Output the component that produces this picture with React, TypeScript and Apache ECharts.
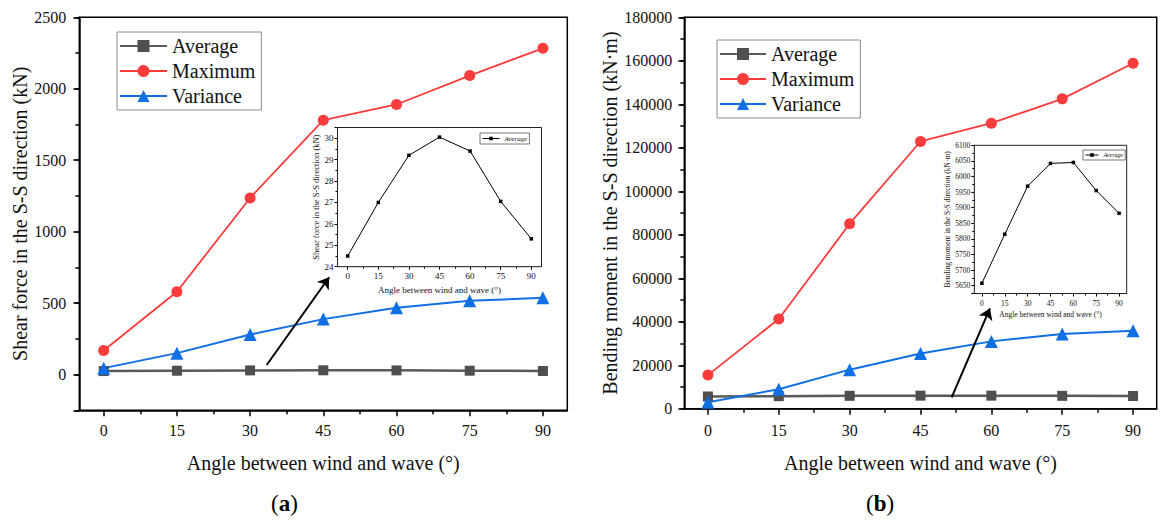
import React, { useEffect, useRef } from "react";
import * as echarts from "echarts";

// ---------- data ----------
const ANGLES = [0, 15, 30, 45, 60, 75, 90];
const SHEAR_AVG = [24.5, 27.0, 29.2, 30.05, 29.4, 27.05, 25.3];
const SHEAR_MAX = [168, 580, 1236, 1780, 1890, 2092, 2283];
const SHEAR_VAR = [45, 150, 280, 388, 468, 516, 537];
const MOMENT_AVG = [5658, 5815, 5969, 6042, 6045, 5955, 5882];
const MOMENT_MAX = [15500, 41300, 85100, 122900, 131300, 142500, 158900];
const MOMENT_VAR = [3000, 9000, 18000, 25400, 31000, 34400, 35900];
const SERIES_NAMES = ["Average", "Maximum", "Variance"];
// arrow annotations in data coordinates of the main panels
const ARROW_A = [[33.4, 67], [46.2, 681]];
const ARROW_B = [[51.6, 5290], [59.7, 46200]];

// tick positions along the angle axis (-5 .. 95 step 2.5)
const X_TICK_SLOTS: string[] = [];
for (let i = 0; i <= 40; i++) X_TICK_SLOTS.push(String(-5 + i * 2.5));
const isMajorX = (v: string) => {
  const n = Number(v);
  return n >= 0 && n <= 90 && n % 15 === 0;
};
const isMinorX = (v: string) => {
  const n = Number(v);
  return n > 0 && n < 90 && n % 7.5 === 0 && n % 15 !== 0;
};

const FONT = "'Liberation Serif', 'Times New Roman', serif";
const TXT = "#111";

const pairs = (ys: number[]) => ANGLES.map((a, i) => [a, ys[i]]);

type AxCfg = {
  g: number;
  lw: number;
  majorLen: number;
  minorLen: number;
  xLabelSize: number;
  xLabelMargin: number;
  xName: string;
  xNameSize: number;
  xNameGap: number;
  yMin: number;
  yMax: number;
  yInterval?: number;
  ySplit?: number;
  yMinorInterval: number;
  yFmt: (v: number) => string;
  yLabelSize: number;
  yLabelMargin: number;
  yName: string;
  yNameSize: number;
  yNameGap: number;
};

function makeAxes(c: AxCfg) {
  const line = { color: "#000", width: c.lw };
  const xs = [
    {
      type: "value",
      gridIndex: c.g,
      min: -5,
      max: 95,
      position: "bottom",
      axisLine: { show: true, onZero: false, lineStyle: line },
      axisTick: { show: false },
      axisLabel: { show: false },
      splitLine: { show: false },
      name: c.xName,
      nameLocation: "middle",
      nameGap: c.xNameGap,
      nameTextStyle: { fontFamily: FONT, fontSize: c.xNameSize, color: TXT },
    },
    {
      type: "category",
      gridIndex: c.g,
      data: X_TICK_SLOTS,
      boundaryGap: false,
      position: "bottom",
      axisLine: { show: false, onZero: false },
      axisTick: { show: true, length: c.majorLen, interval: (_i: number, v: string) => isMajorX(v), lineStyle: line },
      axisLabel: {
        show: true,
        interval: (_i: number, v: string) => isMajorX(v),
        fontFamily: FONT,
        fontSize: c.xLabelSize,
        color: TXT,
        margin: c.xLabelMargin,
      },
      splitLine: { show: false },
    },
    {
      type: "category",
      gridIndex: c.g,
      data: X_TICK_SLOTS,
      boundaryGap: false,
      position: "bottom",
      axisLine: { show: false, onZero: false },
      axisTick: { show: true, length: c.minorLen, interval: (_i: number, v: string) => isMinorX(v), lineStyle: line },
      axisLabel: { show: false },
      splitLine: { show: false },
    },
  ];
  const major: any = {
    type: "value",
    gridIndex: c.g,
    min: c.yMin,
    max: c.yMax,
    position: "left",
    axisLine: { show: true, onZero: false, lineStyle: line },
    axisTick: { show: true, length: c.majorLen, lineStyle: line },
    axisLabel: {
      formatter: c.yFmt,
      fontFamily: FONT,
      fontSize: c.yLabelSize,
      color: TXT,
      margin: c.yLabelMargin,
    },
    splitLine: { show: false },
    name: c.yName,
    nameLocation: "middle",
    nameRotate: 90,
    nameGap: c.yNameGap,
    nameTextStyle: { fontFamily: FONT, fontSize: c.yNameSize, color: TXT },
  };
  if (c.yInterval != null) major.interval = c.yInterval;
  if (c.ySplit != null) major.splitNumber = c.ySplit;
  const ys = [
    major,
    {
      type: "value",
      gridIndex: c.g,
      min: c.yMin,
      max: c.yMax,
      interval: c.yMinorInterval,
      position: "left",
      axisLine: { show: false, onZero: false },
      axisTick: { show: true, length: c.minorLen, lineStyle: line },
      axisLabel: { show: false },
      splitLine: { show: false },
    },
  ];
  return { xs, ys };
}

export default function App() {
  const ref = useRef<HTMLDivElement>(null);
  useEffect(() => {
    if (!ref.current) return;
    const chart = echarts.init(ref.current, undefined, { renderer: "svg" });

    const axA = makeAxes({
      g: 0, lw: 1.5, majorLen: 6, minorLen: 4,
      xLabelSize: 16, xLabelMargin: 12,
      xName: "Angle between wind and wave (°)", xNameSize: 20, xNameGap: 43,
      yMin: -250, yMax: 2500, ySplit: 5, yMinorInterval: 250,
      yFmt: (v) => (v % 500 === 0 ? String(v) : ""),
      yLabelSize: 16, yLabelMargin: 13,
      yName: "Shear force in the S-S direction (kN)", yNameSize: 20, yNameGap: 47,
    });
    const axB = makeAxes({
      g: 1, lw: 1.5, majorLen: 6, minorLen: 4,
      xLabelSize: 16, xLabelMargin: 14,
      xName: "Angle between wind and wave (°)", xNameSize: 20, xNameGap: 44,
      yMin: 0, yMax: 180000, yInterval: 20000, yMinorInterval: 10000,
      yFmt: (v) => String(v),
      yLabelSize: 16, yLabelMargin: 12,
      yName: "Bending moment in the S-S direction (kN·m)", yNameSize: 20, yNameGap: 64,
    });
    const axIA = makeAxes({
      g: 2, lw: 1, majorLen: 3, minorLen: 2,
      xLabelSize: 9, xLabelMargin: 5,
      xName: "Angle between wind and wave (°)", xNameSize: 9, xNameGap: 19,
      yMin: 24, yMax: 30.5, yInterval: 1, yMinorInterval: 0.5,
      yFmt: (v) => (Number.isInteger(v) ? String(v) : ""),
      yLabelSize: 9, yLabelMargin: 4,
      yName: "Shear force in the S-S direction (kN)", yNameSize: 8.5, yNameGap: 17,
    });
    const axIB = makeAxes({
      g: 3, lw: 1, majorLen: 3, minorLen: 2,
      xLabelSize: 7.5, xLabelMargin: 6,
      xName: "Angle between wind and wave (°)", xNameSize: 7.5, xNameGap: 17,
      yMin: 5625, yMax: 6100, ySplit: 9, yMinorInterval: 25,
      yFmt: (v) => (v % 50 === 0 ? String(v) : ""),
      yLabelSize: 7.5, yLabelMargin: 4,
      yName: "Bending moment in the S-S direction (kN·m)", yNameSize: 7.5, yNameGap: 20,
    });

    const AVG_COLOR = "#4f4f4f";
    const MAX_COLOR = "#fb3c3c";
    const VAR_COLOR = "#0f6fe3";

    const mainSeries = (g: number, avg: number[], max: number[], vr: number[]) => [
      {
        name: "Average", type: "line", xAxisIndex: g * 3, yAxisIndex: g * 2,
        data: pairs(avg), symbol: "rect", symbolSize: 10,
        lineStyle: { color: "#5a5a5a", width: 2.5 }, itemStyle: { color: AVG_COLOR },
      },
      {
        name: "Maximum", type: "line", xAxisIndex: g * 3, yAxisIndex: g * 2,
        data: pairs(max), symbol: "circle", symbolSize: 11,
        lineStyle: { color: MAX_COLOR, width: 1.8 }, itemStyle: { color: MAX_COLOR },
      },
      {
        name: "Variance", type: "line", xAxisIndex: g * 3, yAxisIndex: g * 2,
        data: pairs(vr), symbol: "triangle", symbolSize: 13,
        lineStyle: { color: VAR_COLOR, width: 2 }, itemStyle: { color: VAR_COLOR },
      },
    ];
    const insetSeries = (g: number, avg: number[]) => ({
      name: "Average", type: "line", xAxisIndex: g * 3, yAxisIndex: g * 2,
      data: pairs(avg), symbol: "rect", symbolSize: 3.5,
      lineStyle: { color: "#000", width: 1 }, itemStyle: { color: "#000" }, z: 12,
    });
    const arrow = (g: number, coords: number[][]) => ({
      name: "arrow" + g, type: "lines", coordinateSystem: "cartesian2d",
      xAxisIndex: g * 3, yAxisIndex: g * 2, silent: true,
      symbol: ["none", "arrow"], symbolSize: 11,
      lineStyle: { color: "#000", width: 2, opacity: 1 },
      data: [{ coords }], z: 6,
    });

    const legendMain = (left: number, top: number, itemWidth: number) => ({
      data: SERIES_NAMES, orient: "vertical", left, top,
      itemWidth, itemHeight: 15, itemGap: 5,
      padding: [4, 6, 4, 2], borderColor: "#8a8a8a", borderWidth: 1,
      backgroundColor: "#fff", selectedMode: false,
      textStyle: { fontFamily: FONT, fontSize: 20, color: TXT },
    });
    const legendInset = (left: number, top: number, itemWidth: number, fs: number) => ({
      data: [{ name: "Average", itemStyle: { color: "#000" }, lineStyle: { color: "#000", width: 1 } }],
      orient: "vertical", left, top, itemWidth, itemHeight: 4.5, itemGap: 2,
      padding: [2, 2, 2, 2], borderColor: "#555", borderWidth: 0.8,
      backgroundColor: "#fff", selectedMode: false, z: 12,
      textStyle: { fontFamily: FONT, fontSize: fs, color: TXT, fontStyle: "italic" },
    });

    chart.setOption({
      animation: false,
      backgroundColor: "#fff",
      grid: [
        { left: 79.3, top: 17.3, width: 488, height: 393, show: true, borderColor: "#000", borderWidth: 1.5, backgroundColor: "transparent", containLabel: false, outerBoundsMode: "none" },
        { left: 684.3, top: 17.3, width: 472.4, height: 391.5, show: true, borderColor: "#000", borderWidth: 1.5, backgroundColor: "transparent", containLabel: false, outerBoundsMode: "none" },
        { left: 337.5, top: 127.5, width: 204, height: 139.2, show: true, borderColor: "#222", borderWidth: 1, backgroundColor: "#fff", z: 10, containLabel: false, outerBoundsMode: "none" },
        { left: 974.3, top: 145.3, width: 152.4, height: 148.2, show: true, borderColor: "#222", borderWidth: 1, backgroundColor: "#fff", z: 10, containLabel: false, outerBoundsMode: "none" },
      ],
      xAxis: [...axA.xs, ...axB.xs, ...axIA.xs, ...axIB.xs],
      yAxis: [...axA.ys, ...axB.ys, ...axIA.ys, ...axIB.ys],
      legend: [
        legendMain(117, 32, 47),
        legendMain(717, 40, 46),
        legendInset(480, 133, 17, 7),
        legendInset(1083, 150, 13, 6),
      ],
      series: [
        ...mainSeries(0, SHEAR_AVG, SHEAR_MAX, SHEAR_VAR),
        ...mainSeries(1, MOMENT_AVG, MOMENT_MAX, MOMENT_VAR),
        insetSeries(2, SHEAR_AVG),
        insetSeries(3, MOMENT_AVG),
        arrow(0, ARROW_A),
        arrow(1, ARROW_B),
      ],
      graphic: [
        {
          type: "text", left: 271, top: 492,
          style: {
            text: "({b|a})", fontFamily: FONT, fontSize: 23, fill: "#000",
            rich: { b: { fontWeight: "bold", fontFamily: FONT, fontSize: 23, fill: "#000" } },
          },
        },
        {
          type: "text", left: 866, top: 492,
          style: {
            text: "({b|b})", fontFamily: FONT, fontSize: 23, fill: "#000",
            rich: { b: { fontWeight: "bold", fontFamily: FONT, fontSize: 23, fill: "#000" } },
          },
        },
      ],
    });
    return () => chart.dispose();
  }, []);
  return (
    <div
      ref={ref}
      style={{ position: "absolute", left: 0, top: 0, width: 1167, height: 527, background: "#fff" }}
    />
  );
}
